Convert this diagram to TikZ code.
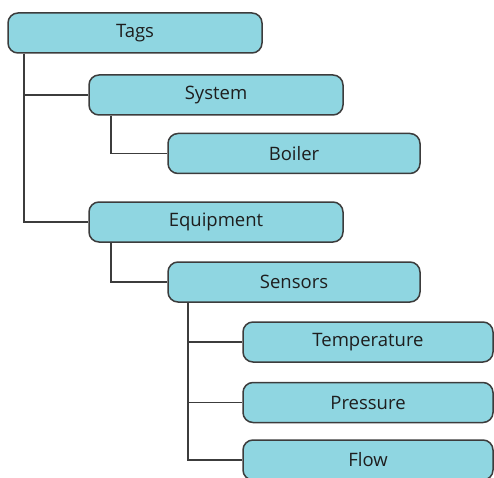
\documentclass[tikz,border=0pt]{standalone}
\usepackage{fontspec}
\setmainfont{Open Sans}
\definecolor{boxfill}{HTML}{8FD6E1}
\definecolor{boxline}{HTML}{3C3C3C}
\definecolor{txt}{HTML}{1E1E1E}
\begin{document}
\begin{tikzpicture}[x=1pt,y=1pt,
  box/.style={draw=boxline, line width=1.5pt, fill=boxfill, rounded corners=10pt,
    minimum height=40pt, inner sep=0pt, text=txt, font=\fontsize{18.5}{22}\selectfont},
  conn/.style={draw=boxline, line width=1.6pt}]
\useasboundingbox (0,0) rectangle (494,477);
\node[box, minimum width=254pt] (tags) at (135,444) {Tags};
\node[box, minimum width=254pt] (system) at (216,382) {System};
\node[box, minimum width=252pt] (boiler) at (294,323.5) {Boiler};
\node[box, minimum width=254pt] (equipment) at (216,255) {Equipment};
\node[box, minimum width=252pt] (sensors) at (294,195) {Sensors};
\node[box, minimum width=250pt] (temperature) at (368,135) {Temperature};
\node[box, minimum width=250pt] (pressure) at (368,74.5) {Pressure};
\node[box, minimum width=250pt] (flow) at (368,17) {Flow};
\draw[conn] ([xshift=17pt]tags.south west) |- (system.west);
\draw[conn] ([xshift=17pt]tags.south west) |- (equipment.west);
\draw[conn] ([xshift=23pt]system.south west) |- (boiler.west);
\draw[conn] ([xshift=23pt]equipment.south west) |- (sensors.west);
\draw[conn] ([xshift=21pt]sensors.south west) |- (temperature.west);
\draw[conn] ([xshift=21pt]sensors.south west) |- (pressure.west);
\draw[conn] ([xshift=21pt]sensors.south west) |- (flow.west);
\end{tikzpicture}
\end{document}
